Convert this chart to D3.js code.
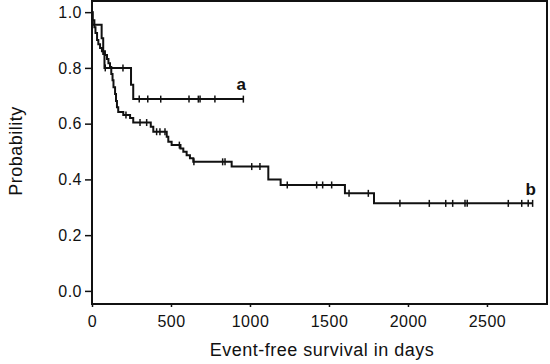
<!DOCTYPE html>
<html>
<head>
<meta charset="utf-8">
<script src="https://cdn.jsdelivr.net/npm/d3@7"></script>
<style>
  body { margin: 0; background: #fff; }
  svg { display: block; }
</style>
</head>
<body>
<div id="chart"></div>
<script>
// Kaplan-Meier event-free survival, two groups (a, b)
const xTicks = [0, 500, 1000, 1500, 2000, 2500];
const yTicks = [0.0, 0.2, 0.4, 0.6, 0.8, 1.0];

// step points [day, probability] for group a
const curveA = [[0, 1], [4, 0.955], [61, 0.906], [71, 0.85], [79, 0.80], [247, 0.74], [261, 0.688]];
const endA = 958;
const censorA = [84, 196, 299, 353, 435, 614, 673, 684, 778, 958];

// step points [day, probability] for group b
const curveB = [[0, 1], [3, 0.971], [15, 0.946], [22, 0.925], [32, 0.900], [40, 0.885], [51, 0.871],
  [63, 0.860], [82, 0.846], [95, 0.832], [104, 0.817], [114, 0.803], [122, 0.778], [130, 0.756],
  [136, 0.731], [146, 0.706], [152, 0.681], [158, 0.659], [166, 0.642], [198, 0.631], [241, 0.620],
  [261, 0.604], [372, 0.589], [388, 0.571], [473, 0.553], [483, 0.535], [504, 0.523], [560, 0.511],
  [578, 0.499], [599, 0.487], [620, 0.476], [641, 0.463], [884, 0.446], [1116, 0.400], [1194, 0.380],
  [1601, 0.350], [1785, 0.314]];
const endB = 2789;
const censorB = [215, 304, 346, 409, 430, 462, 553, 645, 827, 842, 1011, 1063, 1236, 1422, 1460,
  1517, 1627, 1749, 1949, 2135, 2239, 2283, 2361, 2375, 2635, 2720, 2761, 2789];

const groups = [
  { name: "a", steps: curveA, end: endA, censored: censorA },
  { name: "b", steps: curveB, end: endB, censored: censorB }
];

const width = 550;
const height = 364;

const x = d3.scaleLinear()
    .domain([0, 2880])
    .range([92, 547]);

const y = d3.scaleLinear()
    .domain([-0.047, 1.04])
    .range([304, 1]);

const svg = d3.select("#chart").append("svg")
    .attr("width", width)
    .attr("height", height)
    .style("font-family", "'Liberation Sans', Arial, Helvetica, sans-serif");

const ink = "#111";

// survival level at a given day
function levelAt(steps, day) {
    let p = steps[0][1];
    steps.forEach(s => { if (s[0] <= day) p = s[1]; });
    return p;
}

const line = d3.line()
    .x(d => x(d[0]))
    .y(d => y(d[1]))
    .curve(d3.curveStepAfter);

groups.forEach(g => {
    const pts = g.steps.concat([[g.end, g.steps[g.steps.length - 1][1]]]);
    svg.append("path")
        .attr("d", line(pts))
        .attr("fill", "none")
        .attr("stroke", ink)
        .attr("stroke-width", 2);

    svg.selectAll("line.cens-" + g.name)
        .data(g.censored)
        .join("line")
        .attr("class", "cens-" + g.name)
        .attr("x1", d => x(d))
        .attr("x2", d => x(d))
        .attr("y1", d => y(levelAt(g.steps, d)) - 3.5)
        .attr("y2", d => y(levelAt(g.steps, d)) + 3.5)
        .attr("stroke", ink)
        .attr("stroke-width", 1.5);
});

// group labels
svg.append("text")
    .attr("x", x(endA) - 2)
    .attr("y", y(levelAt(curveA, endA)) - 9)
    .attr("text-anchor", "middle")
    .style("font-size", "17px")
    .style("font-weight", "bold")
    .attr("fill", ink)
    .text("a");

svg.append("text")
    .attr("x", x(endB) - 2)
    .attr("y", y(levelAt(curveB, endB)) - 8)
    .attr("text-anchor", "middle")
    .style("font-size", "17px")
    .style("font-weight", "bold")
    .attr("fill", ink)
    .text("b");

// plot frame
svg.append("rect")
    .attr("x", x.range()[0])
    .attr("y", y.range()[1])
    .attr("width", x.range()[1] - x.range()[0])
    .attr("height", y.range()[0] - y.range()[1])
    .attr("fill", "none")
    .attr("stroke", ink)
    .attr("stroke-width", 2);

const yAxis = svg.append("g")
    .attr("transform", `translate(${x.range()[0]},0)`)
    .call(d3.axisLeft(y).tickValues(yTicks).tickFormat(d3.format(".1f")).tickSize(7).tickPadding(3));

const xAxis = svg.append("g")
    .attr("transform", `translate(0,${y.range()[0]})`)
    .call(d3.axisBottom(x).tickValues(xTicks).tickFormat(d => d).tickSize(3).tickPadding(9));

[yAxis, xAxis].forEach(ax => {
    ax.select(".domain").remove();
    ax.selectAll(".tick line").attr("stroke", ink).attr("stroke-width", 1.5);
    ax.selectAll(".tick text")
        .attr("fill", ink)
        .style("font-family", "'Liberation Sans', Arial, Helvetica, sans-serif")
        .style("font-size", "16px")
        .style("letter-spacing", "0.5px");
});

svg.append("text")
    .attr("x", 322)
    .attr("y", 356)
    .attr("text-anchor", "middle")
    .style("font-size", "18px")
    .style("letter-spacing", "0.5px")
    .attr("fill", ink)
    .text("Event-free survival in days");

svg.append("text")
    .attr("transform", "translate(22,151) rotate(-90)")
    .attr("text-anchor", "middle")
    .style("font-size", "18px")
    .style("letter-spacing", "0.5px")
    .attr("fill", ink)
    .text("Probability");
</script>
</body>
</html>
